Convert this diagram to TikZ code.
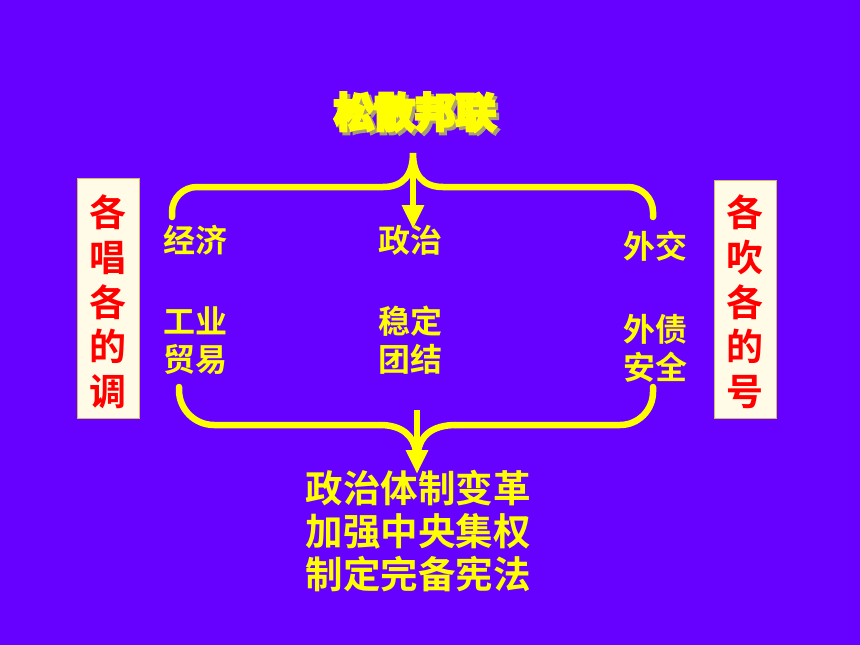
\documentclass[tikz,border=0pt]{standalone}
\usepackage{fontspec}
\newfontfamily\cjk{Noto Sans CJK SC}[BoldFont={Noto Sans CJK SC Bold}]
\newfontfamily\titlecjk{Noto Sans CJK SC Bold}[FakeBold=8]
\usetikzlibrary{arrows.meta,calc}
\definecolor{bgpurple}{HTML}{6600FF}
\definecolor{ylw}{HTML}{FFFF00}
\definecolor{cream}{HTML}{FFFBE6}
\definecolor{boxedge}{HTML}{D8B860}
\definecolor{shadowc}{HTML}{A8A070}
\definecolor{redtxt}{HTML}{FF0000}
\tikzset{
  ytext/.style={text=ylw,font=\cjk\bfseries\fontsize{32}{38}\selectfont,inner sep=0pt,align=center},
  bigtext/.style={text=ylw,font=\cjk\bfseries\fontsize{37.5}{43}\selectfont,inner sep=0pt,align=center},
  sidebox/.style={fill=cream,draw=boxedge,line width=1pt},
  sidetext/.style={text=redtxt,font=\cjk\bfseries\fontsize{37}{44.7}\selectfont,inner sep=0pt,align=center},
  brace/.style={draw=ylw,line width=6.5pt},
  bracearrow/.style={draw=ylw,line width=6.5pt,-{Triangle[width=21pt,length=24pt]}},
  titlefill/.style={text=ylw,font=\titlecjk\fontsize{40.5}{40.5}\selectfont,inner sep=0pt},
  titleshadow/.style={text=shadowc,font=\titlecjk\fontsize{40.5}{40.5}\selectfont,inner sep=0pt}
}
\begin{document}
\begin{tikzpicture}[x=1pt,y=-1pt]
\fill[bgpurple] (0,0) rectangle (860,645);
\useasboundingbox (0,0) rectangle (860,645);
% title with shadow
\node[titleshadow] (titleshadow) at (418,115) {松散邦联};
\node[titlefill] (title) at (415,112) {松散邦联};
% top brace
\coordinate (tl) at (172,217);
\coordinate (tr) at (653,217);
\coordinate (tcusp) at (413,153);
\coordinate (ttip) at (413,229);
\draw[brace,line cap=round,rounded corners=25pt] (tl) -- (172,187) -- (383,187);
\draw[brace] (383,187) .. controls (403,187) and (413,175) .. (tcusp)
  .. controls (413,175) and (423,187) .. (443,187);
\draw[brace,line cap=round,rounded corners=25pt] (443,187) -- (653,187) -- (tr);
\draw[bracearrow] (tcusp) -- (ttip);
% bottom brace
\coordinate (bl) at (179,387);
\coordinate (br) at (653,387);
\coordinate (bstart) at (417,410);
\coordinate (btip) at (417,474);
\draw[brace,line cap=round,rounded corners=35pt] (bl) -- (179,425) -- (380,425);
\draw[brace] (380,425) .. controls (402,425) and (414,436) .. (416,452);
\draw[brace,line cap=round,rounded corners=33pt] (br) -- (653,425) -- (456,425);
\draw[brace] (456,425) .. controls (432,425) and (420,436) .. (418,452);
\draw[bracearrow] (bstart) -- (btip);
% middle texts
\node[ytext] (econ) at (195,240) {经济};
\node[ytext] (pol) at (410,240) {政治};
\node[ytext] (dipl) at (655,246) {外交};
\node[ytext] (econ2) at (195,341) {工业\\贸易};
\node[ytext] (pol2) at (410,340) {稳定\\团结};
\node[ytext] (dipl2) at (655,348) {外债\\安全};
% side boxes
\draw[sidebox] (77,178) rectangle (139,418);
\node[sidetext] (lefttxt) at (108,302) {各\\唱\\各\\的\\调};
\draw[sidebox] (714,180) rectangle (776,418);
\node[sidetext] (righttxt) at (745,302) {各\\吹\\各\\的\\号};
% bottom text
\node[bigtext] (result) at (418,531) {政治体制变革\\加强中央集权\\制定完备宪法};
\end{tikzpicture}
\end{document}
